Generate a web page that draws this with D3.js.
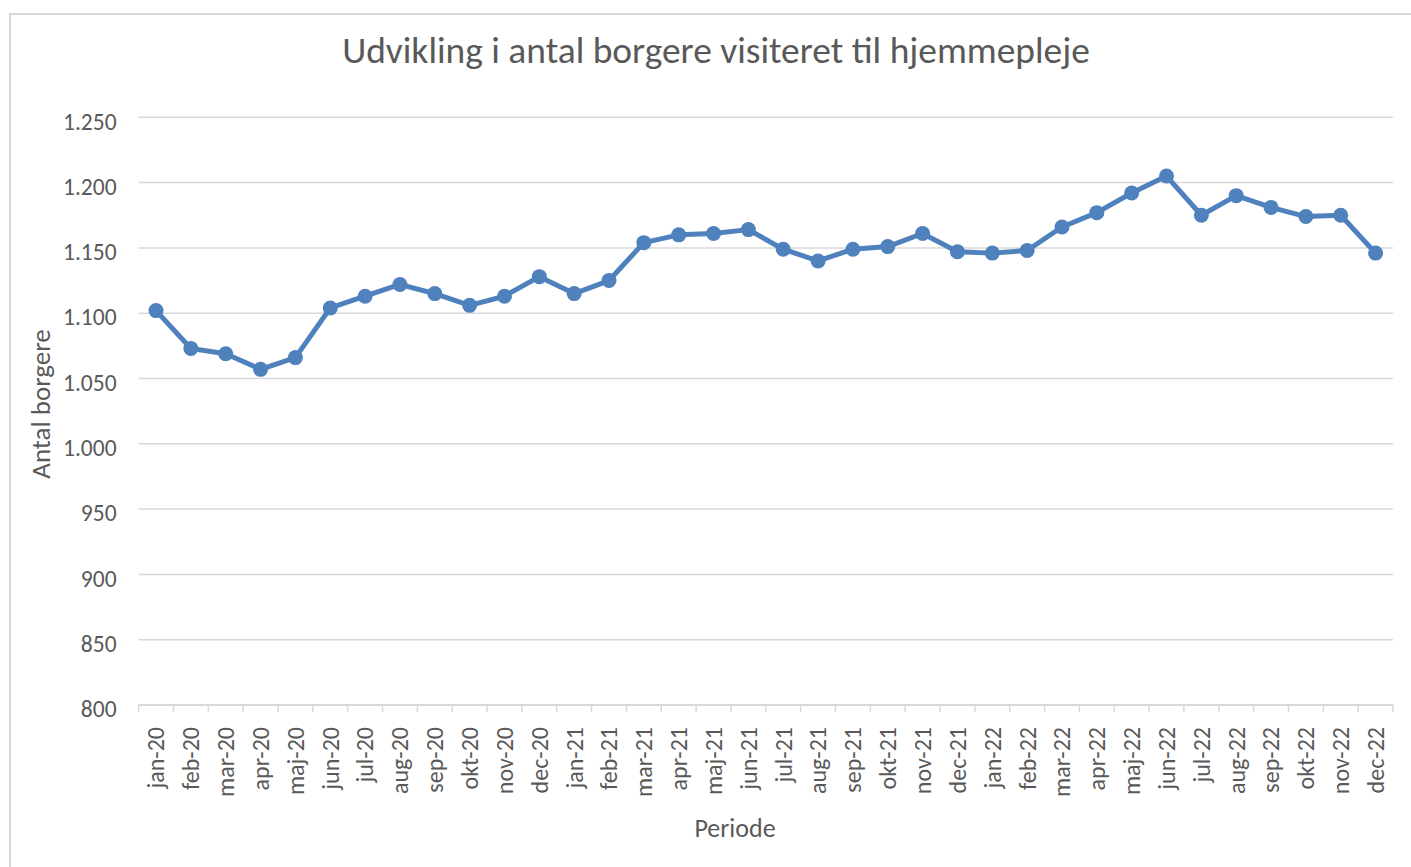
<!DOCTYPE html>
<html>
<head>
<meta charset="utf-8">
<script src="https://cdn.jsdelivr.net/npm/d3@7"></script>
<style>
  html, body { margin: 0; padding: 0; background: #fff; }
  svg { display: block; font-family: Carlito, Calibri, "Open Sans", sans-serif; }
</style>
</head>
<body>
<svg id="chart" width="1411" height="867"></svg>
<script>
var periods = [
  'jan-20', 'feb-20', 'mar-20', 'apr-20', 'maj-20', 'jun-20', 'jul-20', 'aug-20', 'sep-20', 'okt-20', 'nov-20', 'dec-20',
  'jan-21', 'feb-21', 'mar-21', 'apr-21', 'maj-21', 'jun-21', 'jul-21', 'aug-21', 'sep-21', 'okt-21', 'nov-21', 'dec-21',
  'jan-22', 'feb-22', 'mar-22', 'apr-22', 'maj-22', 'jun-22', 'jul-22', 'aug-22', 'sep-22', 'okt-22', 'nov-22', 'dec-22'
];
var borgere = [
  1102, 1073, 1069, 1057, 1066, 1104, 1113, 1122, 1115, 1106, 1113, 1128,
  1115, 1125, 1154, 1160, 1161, 1164, 1149, 1140, 1149, 1151, 1161, 1147,
  1146, 1148, 1166, 1177, 1192, 1205, 1175, 1190, 1181, 1174, 1175, 1146
];
var yTicks = [800, 850, 900, 950, 1000, 1050, 1100, 1150, 1200, 1250];

var titleText = 'Udvikling i antal borgere visiteret til hjemmepleje';
var yTitle = 'Antal borgere';
var xTitle = 'Periode';

function drawChart() {
  var svg = d3.select('#chart');
  var plotLeft = 138.6, plotRight = 1393, plotTop = 117.3, plotBottom = 705;
  var grey = '#595959';
  var lineColor = '#4f81bd';
  var font = 'Carlito, Calibri, "Open Sans", sans-serif';

  var daLocale = d3.formatLocale({ decimal: ',', thousands: '.', grouping: [3], currency: ['', ' kr.'] });
  var fmt = daLocale.format(',d');

  var x = d3.scaleBand().domain(periods).range([plotLeft, plotRight]).padding(0);
  var y = d3.scaleLinear().domain([800, 1250]).range([plotBottom, plotTop]);

  // outer chart border
  svg.append('rect')
    .attr('x', 10).attr('y', 14)
    .attr('width', 1420).attr('height', 880)
    .attr('fill', '#fff')
    .attr('stroke', '#d9d9d9')
    .attr('stroke-width', 2);

  // title, scaled to the width it has in the reference
  var title = svg.append('text')
    .attr('x', 716).attr('y', 63)
    .attr('text-anchor', 'middle')
    .attr('fill', grey)
    .attr('font-size', 34)
    .text(titleText);
  var tw = title.node().getComputedTextLength();
  title.attr('font-size', 34 * 748 / tw);

  // gridlines
  svg.append('g')
    .selectAll('line')
    .data(yTicks.filter(function(d) { return d > 800; }))
    .enter().append('line')
    .attr('x1', plotLeft).attr('x2', plotRight)
    .attr('y1', function(d) { return y(d); })
    .attr('y2', function(d) { return y(d); })
    .attr('stroke', '#d9d9d9')
    .attr('stroke-width', 1.5);

  // y axis labels
  var yAxis = svg.append('g')
    .attr('transform', 'translate(' + plotLeft + ',0)')
    .call(d3.axisLeft(y).tickValues(yTicks).tickFormat(fmt).tickSize(0).tickPadding(22));
  yAxis.select('.domain').remove();
  yAxis.selectAll('text')
    .attr('fill', grey)
    .attr('font-size', 23.5)
    .attr('font-family', font)
    .attr('dy', '0.5em');

  // x axis with ticks between categories
  var xAxis = svg.append('g')
    .attr('transform', 'translate(0,' + plotBottom + ')')
    .call(d3.axisBottom(x).tickSize(0).tickPadding(0));
  xAxis.select('.domain').remove();
  xAxis.selectAll('.tick text')
    .attr('fill', grey)
    .attr('font-size', 24)
    .attr('font-family', font)
    .attr('text-anchor', 'end')
    .attr('dy', '0.35em')
    .attr('transform', 'translate(0,22) rotate(-90)');

  var bounds = periods.map(function(p) { return x(p); }).concat([plotRight]);
  xAxis.selectAll('line.sep')
    .data(bounds)
    .enter().append('line')
    .attr('class', 'sep')
    .attr('x1', function(d) { return d; }).attr('x2', function(d) { return d; })
    .attr('y1', 0).attr('y2', 7)
    .attr('stroke', '#d9d9d9')
    .attr('stroke-width', 1.5);
  xAxis.append('line')
    .attr('x1', plotLeft).attr('x2', plotRight)
    .attr('y1', 0).attr('y2', 0)
    .attr('stroke', '#d9d9d9')
    .attr('stroke-width', 2);

  // axis titles
  svg.append('text')
    .attr('transform', 'translate(50,404) rotate(-90)')
    .attr('text-anchor', 'middle')
    .attr('fill', grey)
    .attr('font-size', 27)
    .text(yTitle);

  svg.append('text')
    .attr('x', 735).attr('y', 837)
    .attr('text-anchor', 'middle')
    .attr('fill', grey)
    .attr('font-size', 26)
    .text(xTitle);

  // series
  var pts = periods.map(function(p, i) { return { p: p, v: borgere[i] }; });
  var line = d3.line()
    .x(function(d) { return x(d.p) + x.bandwidth() / 2; })
    .y(function(d) { return y(d.v); });

  svg.append('path')
    .datum(pts)
    .attr('d', line)
    .attr('fill', 'none')
    .attr('stroke', lineColor)
    .attr('stroke-width', 5)
    .attr('stroke-linejoin', 'round');

  svg.append('g')
    .selectAll('circle')
    .data(pts)
    .enter().append('circle')
    .attr('cx', function(d) { return x(d.p) + x.bandwidth() / 2; })
    .attr('cy', function(d) { return y(d.v); })
    .attr('r', 7.5)
    .attr('fill', lineColor);
}

drawChart();
</script>
</body>
</html>
